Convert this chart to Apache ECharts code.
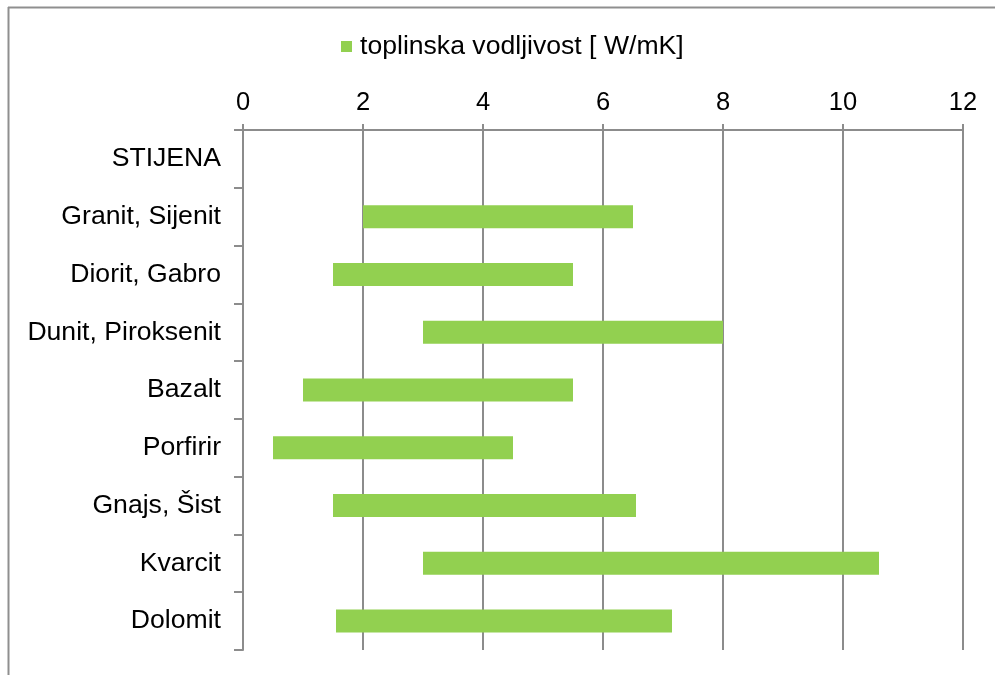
<!DOCTYPE html>
<html>
<head>
<meta charset="utf-8">
<script src="https://cdn.jsdelivr.net/npm/echarts@6/dist/echarts.min.js"></script>
<style>
  html, body { margin: 0; padding: 0; background: #fff; }
  #chart { width: 995px; height: 675px; }
</style>
</head>
<body>
<div id="chart"></div>
<script>
const categories = ["STIJENA", "Granit, Sijenit", "Diorit, Gabro", "Dunit, Piroksenit", "Bazalt", "Porfirir", "Gnajs, Šist", "Kvarcit", "Dolomit"];
const minValues = [null, 2.0, 1.5, 3.0, 1.0, 0.5, 1.5, 3.0, 1.55];
const maxValues = [null, 6.5, 5.5, 8.0, 5.5, 4.5, 6.55, 10.6, 7.15];
const xTicks = [0, 2, 4, 6, 8, 10, 12];
const seriesName = "toplinska vodljivost [ W/mK]";

const rangeValues = minValues.map((lo, i) => (lo == null ? null : +(maxValues[i] - lo).toFixed(2)));

const font = "'Liberation Sans', Arial, sans-serif";
const chart = echarts.init(document.getElementById("chart"));

chart.setOption({
  backgroundColor: "#fff",
  animation: false,
  textStyle: { fontFamily: font, color: "#000" },
  graphic: [
    { type: "line", shape: { x1: 8, y1: 7.5, x2: 995, y2: 7.5 }, style: { stroke: "#8f8f8f", lineWidth: 2 } },
    { type: "line", shape: { x1: 8.5, y1: 7, x2: 8.5, y2: 675 }, style: { stroke: "#8f8f8f", lineWidth: 2 } }
  ],
  legend: {
    left: 341,
    top: 33,
    padding: 0,
    itemWidth: 11,
    itemHeight: 11,
    icon: "rect",
    data: [seriesName],
    textStyle: { fontFamily: font, fontSize: 26.6, color: "#000", padding: [0, 0, 0, 3] }
  },
  grid: { left: 243, right: 32, top: 130, bottom: 25 },
  xAxis: {
    type: "value",
    position: "top",
    min: xTicks[0],
    max: xTicks[xTicks.length - 1],
    interval: 2,
    axisLine: { show: true, lineStyle: { color: "#8c8c8c", width: 2 } },
    axisTick: { show: true, length: 6, lineStyle: { color: "#8c8c8c", width: 2 } },
    axisLabel: { fontSize: 25.5, color: "#000", margin: 14, fontFamily: font },
    splitLine: { show: true, lineStyle: { color: "#8c8c8c", width: 2 } }
  },
  yAxis: {
    type: "category",
    inverse: true,
    data: categories,
    axisLine: { show: true, lineStyle: { color: "#8c8c8c", width: 2 } },
    axisTick: { show: true, length: 9, lineStyle: { color: "#8c8c8c", width: 2 } },
    axisLabel: { fontSize: 26.6, color: "#000", margin: 22, fontFamily: font, padding: [10, 0, 0, 0] }
  },
  series: [
    {
      name: "base",
      type: "bar",
      stack: "range",
      barWidth: 23,
      silent: true,
      itemStyle: { color: "transparent" },
      data: minValues
    },
    {
      name: seriesName,
      type: "bar",
      stack: "range",
      barWidth: 23,
      itemStyle: { color: "#92D050" },
      data: rangeValues
    }
  ]
});
</script>
</body>
</html>
